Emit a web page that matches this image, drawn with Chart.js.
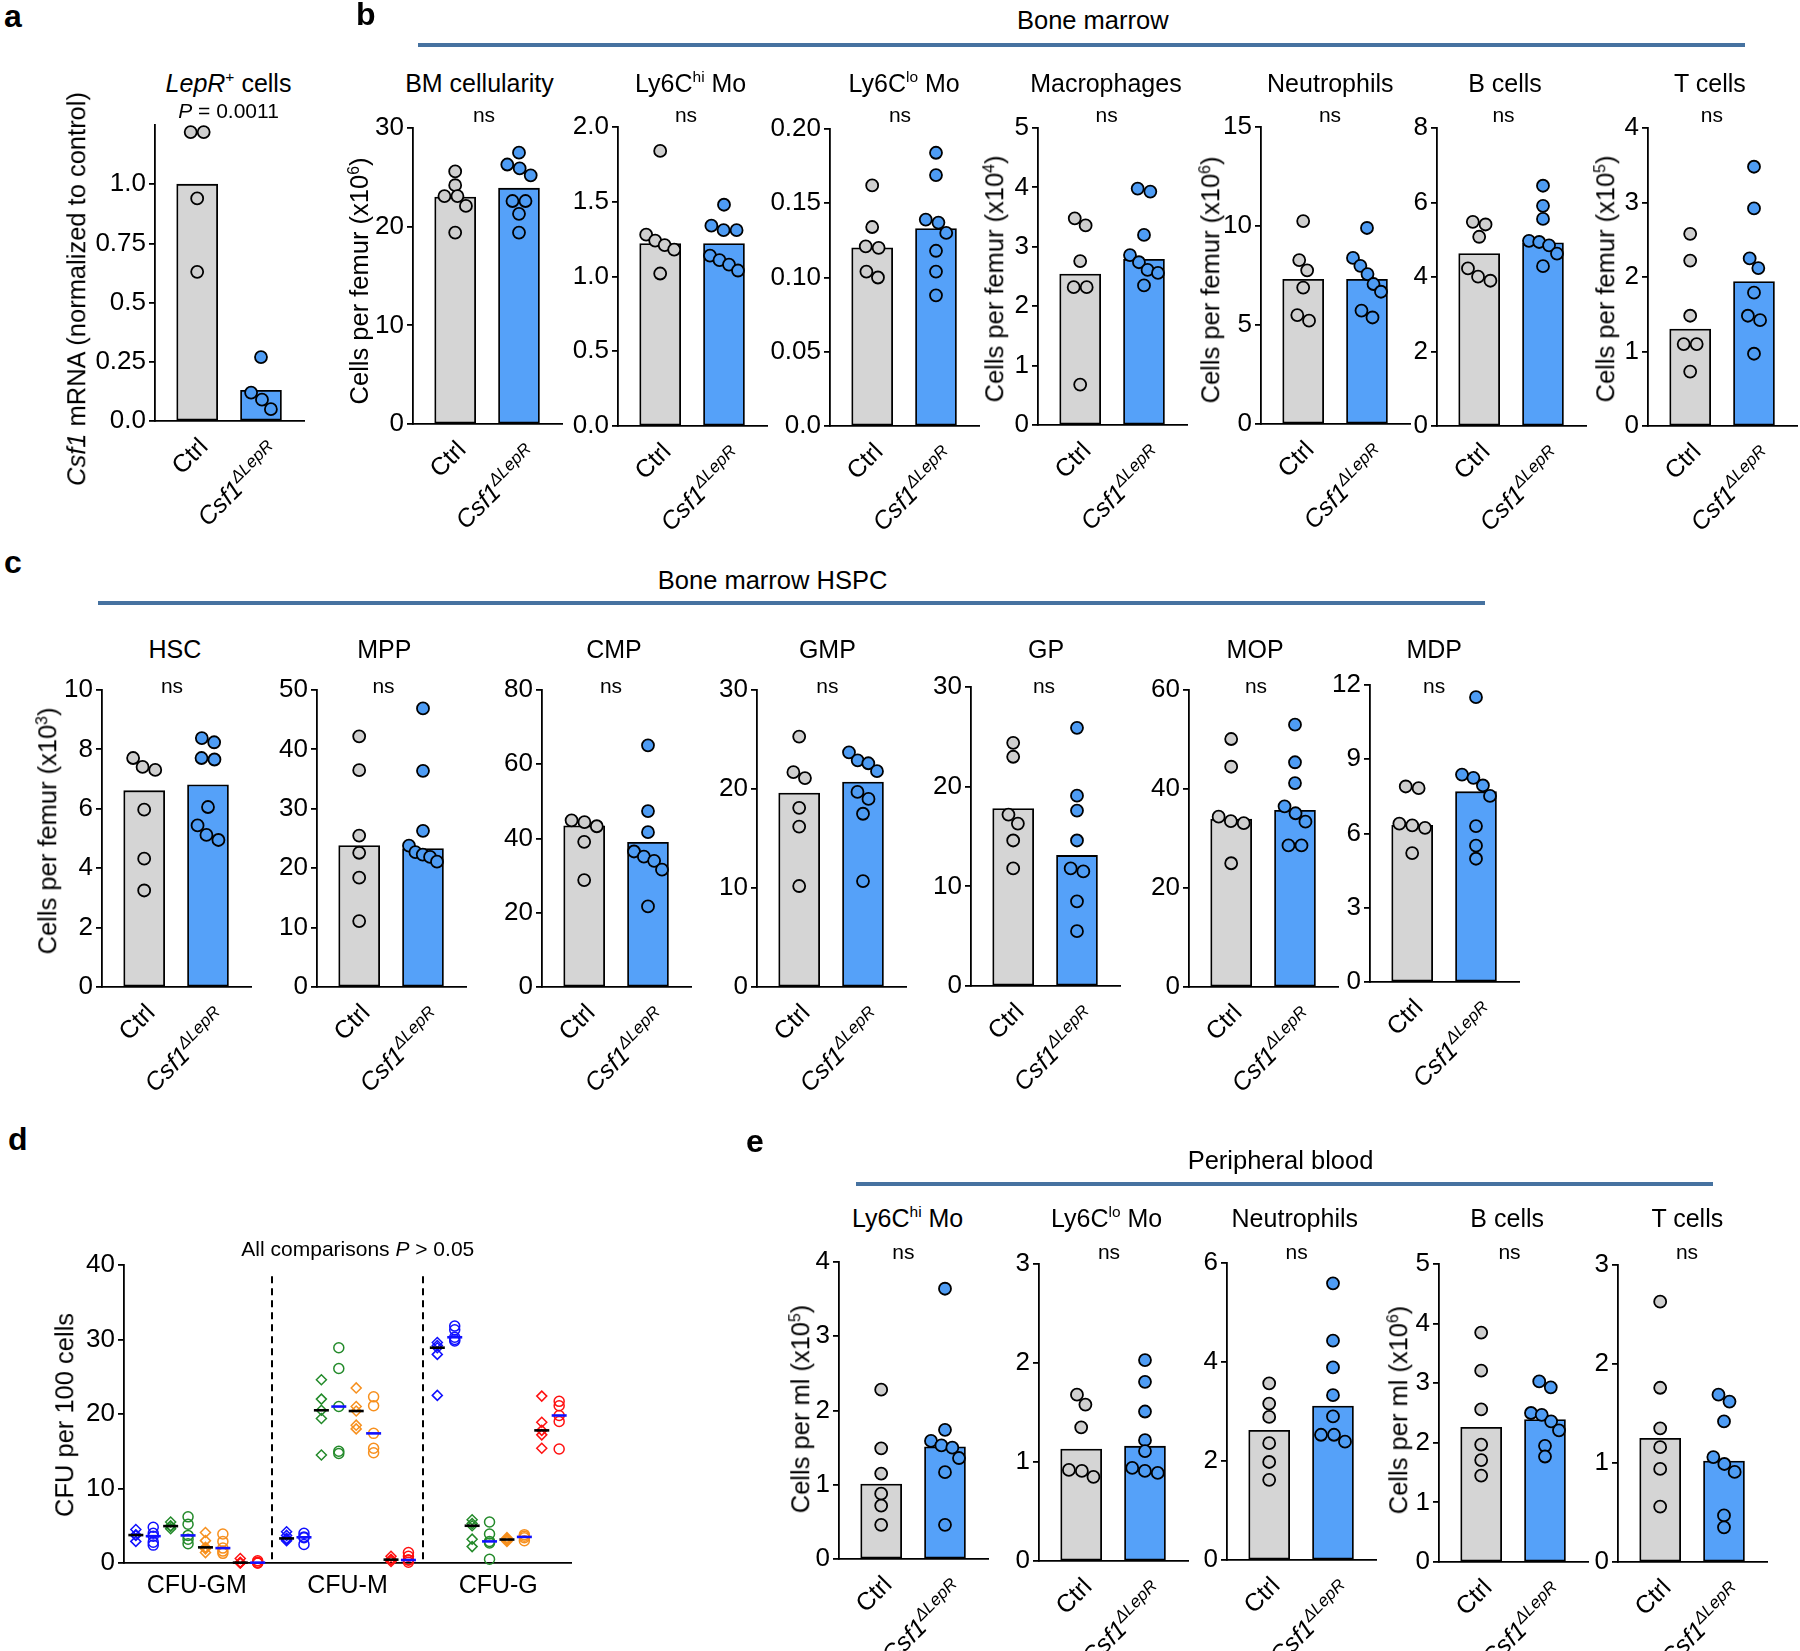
<!DOCTYPE html>
<html>
<head>
<meta charset="utf-8">
<script src="https://cdn.jsdelivr.net/npm/chart.js@4.4.1/dist/chart.umd.min.js"></script>
<style>
  html, body { margin: 0; padding: 0; background: #fff; }
  #fig { position: relative; width: 1800px; height: 1651px; overflow: hidden;
         font-family: "Liberation Sans", Arial, Helvetica, sans-serif; color: #000; }
  .t { position: absolute; white-space: nowrap; line-height: 1; transform: translate(-50%, -50%); }
  .yt { position: absolute; white-space: nowrap; line-height: 1; font-size: 25.5px;
        transform: translate(-50%, -50%) rotate(-90deg); }
  .letter { position: absolute; font-weight: bold; font-size: 32px; line-height: 1; }
  .rule { position: absolute; height: 4px; background: #4672a0; }
  sup { font-size: 0.62em; vertical-align: 0.6em; line-height: 0; }
  canvas { position: absolute; }
</style>
</head>
<body>
<div id="fig"></div>
<script>
// ---------- values ----------
const groupLabels = ['Ctrl', 'Csf1^ΔLepR'];

// a - Csf1 mRNA in LepR+ cells
const lepCtrl = [1.22, 1.22, 0.94, 0.63];
const lepKo = [0.27, 0.12, 0.09, 0.05];
const lepBars = [1.0, 0.13];

// b - bone marrow
const bmCellCtrl = [25.6, 24.2, 23.1, 23.1, 22.1, 19.4];
const bmCellKo = [27.5, 26.3, 25.9, 25.2, 22.6, 22.6, 21.3, 19.4];
const bmCellBars = [23.0, 23.9];
const bmHiCtrl = [1.84, 1.28, 1.24, 1.21, 1.18, 1.02];
const bmHiKo = [1.48, 1.34, 1.31, 1.31, 1.14, 1.11, 1.08, 1.04];
const bmHiBars = [1.22, 1.22];
const bmLoCtrl = [0.162, 0.134, 0.121, 0.120, 0.104, 0.100];
const bmLoKo = [0.184, 0.169, 0.139, 0.137, 0.130, 0.118, 0.104, 0.088];
const bmLoBars = [0.120, 0.133];
const bmMacCtrl = [3.48, 3.36, 2.76, 2.32, 2.32, 0.68];
const bmMacKo = [3.98, 3.93, 3.20, 2.86, 2.74, 2.61, 2.56, 2.35];
const bmMacBars = [2.54, 2.79];
const bmNeuCtrl = [10.25, 8.28, 7.76, 6.89, 5.5, 5.22];
const bmNeuKo = [9.9, 8.39, 7.99, 7.57, 7.07, 6.68, 5.73, 5.38];
const bmNeuBars = [7.31, 7.31];
const bmBCtrl = [5.48, 5.41, 5.08, 4.23, 4.01, 3.9];
const bmBKo = [6.45, 5.91, 5.56, 4.97, 4.94, 4.85, 4.63, 4.29];
const bmBBars = [4.63, 4.92];
const bmTCtrl = [2.58, 2.22, 1.48, 1.1, 1.1, 0.73];
const bmTKo = [3.48, 2.92, 2.25, 2.12, 1.79, 1.48, 1.42, 0.97];
const bmTBars = [1.3, 1.94];

// c - bone marrow HSPC
const hscCtrl = [7.71, 7.41, 7.31, 5.97, 4.32, 3.25];
const hscKo = [8.38, 8.24, 7.71, 7.66, 6.06, 5.44, 5.12, 4.95];
const hscBars = [6.61, 6.81];
const mppCtrl = [42.2, 36.5, 25.5, 22.6, 18.4, 11.1];
const mppKo = [46.9, 36.4, 26.3, 23.8, 22.7, 22.3, 21.9, 21.1];
const mppBars = [23.8, 23.3];
const cmpCtrl = [44.9, 44.4, 43.3, 39.1, 28.8];
const cmpKo = [65.1, 47.4, 41.7, 36.5, 35.1, 34.0, 31.6, 21.7];
const cmpBars = [43.4, 39.0];
const gmpCtrl = [25.3, 21.7, 21.1, 18.1, 16.2, 10.2];
const gmpKo = [23.7, 22.9, 22.6, 21.8, 19.7, 19.0, 17.5, 10.7];
const gmpBars = [19.6, 20.7];
const gpCtrl = [24.4, 23.0, 17.2, 16.3, 14.6, 11.8];
const gpKo = [25.9, 19.1, 17.6, 14.6, 11.8, 11.5, 8.5, 5.5];
const gpBars = [17.8, 13.1];
const mopCtrl = [50.1, 44.5, 34.4, 33.5, 33.1, 25.0];
const mopKo = [53.0, 45.4, 41.2, 36.5, 35.1, 33.4, 28.6, 28.6];
const mopBars = [33.9, 35.7];
const mdpCtrl = [7.9, 7.83, 6.4, 6.33, 6.23, 5.21];
const mdpKo = [11.51, 8.38, 8.25, 7.94, 7.52, 6.3, 5.51, 4.98];
const mdpBars = [6.33, 7.69];

// d - CFU assay, per category [CFU-GM, CFU-M, CFU-G]
const cfuCategories = ['CFU-GM', 'CFU-M', 'CFU-G'];
const cfuBlueDia = [[4.5, 3.8, 3.7, 2.9], [4.2, 3.7, 3.3, 3.2, 3.0], [29.6, 29.2, 28.9, 28.0, 22.5]];
const cfuBlueCirc = [[4.8, 4.0, 3.6, 2.8, 2.4], [4.0, 3.5, 3.4, 2.5], [31.8, 31.3, 30.3, 30.0, 29.8]];
const cfuGreenDia = [[5.5, 5.0, 4.9, 4.6], [24.6, 22.0, 20.5, 19.4, 14.5], [5.8, 5.3, 5.0, 3.2, 2.2]];
const cfuGreenCirc = [[6.2, 5.2, 3.7, 3.2, 2.6], [28.9, 26.1, 21.0, 15.0, 14.7], [5.5, 3.9, 2.9, 2.7, 0.5]];
const cfuOrangeDia = [[4.1, 3.0, 2.1, 1.9, 1.4], [23.5, 21.0, 20.4, 18.5, 18.0], [3.4, 3.2, 3.1, 2.9]];
const cfuOrangeCirc = [[3.9, 2.9, 2.0, 1.6, 1.3], [22.3, 21.1, 17.4, 15.4, 14.8], [3.8, 3.6, 3.4, 3.0]];
const cfuRedDia = [[0.6, 0.1, 0, 0], [0.9, 0.5, 0.4, 0.2], [22.4, 18.9, 17.8, 17.2, 15.4]];
const cfuRedCirc = [[0.3, 0.1, 0, 0], [1.4, 0.9, 0.4, 0.4, 0.1], [21.7, 21.1, 19.8, 19.0, 15.3]];

// e - peripheral blood
const pbHiCtrl = [2.28, 1.49, 1.15, 0.88, 0.72, 0.46];
const pbHiKo = [3.64, 1.74, 1.59, 1.53, 1.5, 1.36, 1.17, 0.46];
const pbHiBars = [1.01, 1.51];
const pbLoCtrl = [1.68, 1.58, 1.35, 0.92, 0.91, 0.85];
const pbLoKo = [2.03, 1.81, 1.51, 1.22, 1.11, 0.94, 0.91, 0.89];
const pbLoBars = [1.13, 1.16];
const pbNeuCtrl = [3.57, 3.16, 2.89, 2.36, 1.98, 1.62];
const pbNeuKo = [5.59, 4.43, 3.89, 3.33, 2.9, 2.53, 2.53, 2.39];
const pbNeuBars = [2.62, 3.11];
const pbBCtrl = [3.85, 3.21, 2.56, 1.97, 1.71, 1.45];
const pbBKo = [3.03, 2.93, 2.5, 2.47, 2.36, 2.21, 1.95, 1.77];
const pbBBars = [2.26, 2.39];
const pbTCtrl = [2.63, 1.76, 1.35, 1.16, 0.94, 0.56];
const pbTKo = [1.69, 1.62, 1.42, 1.06, 0.99, 0.91, 0.47, 0.35];
const pbTBars = [1.25, 1.02];

// ---------- styling ----------
const FONT = '"Liberation Sans", Arial, Helvetica, sans-serif';
const CTRL_FILL = '#d5d5d5', KO_FILL = '#55a1f9';
const CTRL_DOT = '#cfcfcf', KO_DOT = '#4e9cf4';
const LINE_W = 1.8;
const TICK_SIZE = 26, TITLE_SIZE = 25, NOTE_SIZE = 21;
const X_MIN = -0.661, X_MAX = 1.674, UNIT = 63.8;   // bars sit at x = 0 and x = 1
const PAD_L = 80, PAD_T = 18, PAD_R = 8, PAD_B = 130;

const fig = document.getElementById('fig');

const fmtInt = v => String(Math.round(v));
const fmt1 = v => v.toFixed(1);
const fmt2 = v => (v === 0 ? '0.0' : v.toFixed(2));
const fmtA = v => (v >= 1.25 ? '' : v === 0 ? '0.0' : v === 1 ? '1.0' : String(v));

function addText(html, cx, cy, size, cls) {
  const d = document.createElement('div');
  d.className = cls || 't';
  d.innerHTML = html;
  d.style.left = cx + 'px';
  d.style.top = cy + 'px';
  if (size) d.style.fontSize = size + 'px';
  fig.appendChild(d);
}

function addLetter(ch, x, y) {
  const d = document.createElement('div');
  d.className = 'letter';
  d.textContent = ch;
  d.style.left = x + 'px';
  d.style.top = y + 'px';
  fig.appendChild(d);
}

function addRule(x1, x2, y) {
  const d = document.createElement('div');
  d.className = 'rule';
  d.style.left = x1 + 'px';
  d.style.width = (x2 - x1) + 'px';
  d.style.top = (y - 2) + 'px';
  fig.appendChild(d);
}

// Prism-like scatter: points with close values form a row, spread sideways and centred
function swarm(values, center, pxPerY) {
  const D = 13, MAXW = 28;
  const vals = [...values].sort((a, b) => b - a);
  const rows = [];
  vals.forEach((v, i) => {
    if (i && (vals[i - 1] - v) * pxPerY < 0.8 * D) rows[rows.length - 1].push(v);
    else rows.push([v]);
  });
  const out = [];
  rows.forEach(row => {
    const xs = [0];
    for (let i = 1; i < row.length; i++) {
      const dy = (row[i - 1] - row[i]) * pxPerY;
      xs.push(xs[i - 1] + Math.sqrt(Math.max(D * D - dy * dy, 0.3 * D * D)));
    }
    const span = xs[xs.length - 1];
    const k = span > MAXW ? MAXW / span : 1;
    row.forEach((v, i) => out.push({ x: center + (xs[i] - span / 2) * k / UNIT, y: v }));
  });
  return out;
}

// rotated group names under the bars (Csf1 with superscript)
const groupLabelPlugin = {
  id: 'groupLabels',
  afterDraw(chart) {
    const ctx = chart.ctx, xs = chart.scales.x, y0 = chart.chartArea.bottom;
    groupLabels.forEach((lab, i) => {
      const [main, sup] = lab.split('^');
      const fMain = (sup ? 'italic ' : '') + '25px ' + FONT;
      const fSup = 'italic 17px ' + FONT;
      ctx.save();
      ctx.translate(xs.getPixelForValue(i) + (sup ? 20 : 12), y0 + (sup ? 33 : 27));
      ctx.rotate(-Math.PI / 4);
      ctx.fillStyle = '#000';
      ctx.textAlign = 'left';
      ctx.textBaseline = 'alphabetic';
      ctx.font = fMain;
      const w1 = ctx.measureText(main).width;
      let w2 = 0;
      if (sup) { ctx.font = fSup; w2 = ctx.measureText(sup).width; }
      ctx.font = fMain;
      ctx.fillText(main, -(w1 + w2), 0);
      if (sup) { ctx.font = fSup; ctx.fillText(sup, -w2, -10); }
      ctx.restore();
    });
  }
};

function yAxis(max, step, fmt, hideTop) {
  return {
    min: 0, max: max,
    border: { color: '#000', width: LINE_W },
    grid: {
      drawOnChartArea: false, drawTicks: true, tickLength: 6, lineWidth: LINE_W,
      color: c => (hideTop && c.tick && c.tick.value >= max) ? 'rgba(0,0,0,0)' : '#000'
    },
    ticks: { stepSize: step, padding: 3, color: '#000', font: { family: FONT, size: TICK_SIZE }, callback: v => fmt(v) },
    afterFit(s) { s.width = PAD_L; s.paddingTop = 0; s.paddingBottom = 0; }
  };
}

function xAxis(min, max, padB) {
  return {
    type: 'linear', min: min, max: max, offset: false,
    border: { color: '#000', width: LINE_W },
    grid: { display: false, offset: false }, ticks: { display: false },
    afterFit(s) { s.height = padB; s.paddingLeft = 0; s.paddingRight = 0; }
  };
}

function barPanel(p) {
  const plotW = Math.round((X_MAX - X_MIN) * UNIT);
  const plotH = p.bottom - p.top;
  const W = plotW + PAD_L + PAD_R, H = plotH + PAD_T + PAD_B;
  const cv = document.createElement('canvas');
  cv.width = W; cv.height = H;
  cv.style.left = (p.x - PAD_L) + 'px';
  cv.style.top = (p.top - PAD_T) + 'px';
  cv.style.width = W + 'px';
  cv.style.height = H + 'px';
  fig.appendChild(cv);
  const pxPerY = plotH / p.max;

  new Chart(cv, {
    type: 'scatter',
    data: {
      datasets: [
        { type: 'scatter', data: swarm(p.ctrl, 0, pxPerY), pointRadius: 6, pointBackgroundColor: CTRL_DOT,
          pointBorderColor: '#000', pointBorderWidth: LINE_W, clip: false, order: 1 },
        { type: 'scatter', data: swarm(p.ko, 1, pxPerY), pointRadius: 6, pointBackgroundColor: KO_DOT,
          pointBorderColor: '#000', pointBorderWidth: LINE_W, clip: false, order: 1 },
        { type: 'bar', data: [{ x: 0, y: p.bars[0] }, { x: 1, y: p.bars[1] }], backgroundColor: [CTRL_FILL, KO_FILL],
          borderColor: '#000', borderWidth: LINE_W, barThickness: 41, borderSkipped: false, order: 2 }
      ]
    },
    options: {
      responsive: false, animation: false, devicePixelRatio: 1,
      layout: { autoPadding: false, padding: { left: 0, top: PAD_T, right: PAD_R, bottom: 0 } },
      plugins: { legend: { display: false }, tooltip: { enabled: false } },
      scales: { x: xAxis(X_MIN, X_MAX, PAD_B), y: yAxis(p.max, p.step, p.fmt, p.hideTop) }
    },
    plugins: [groupLabelPlugin]
  });

  addText(p.title, p.tx, p.ty, TITLE_SIZE);
  addText(p.note || 'ns', p.nx, p.ny, NOTE_SIZE);
  if (p.ytitle) addText(p.ytitle, p.yx, p.yy, null, 'yt');
}

// ---------- panel layout ----------
const rowB = { ty: 82.6, ny: 113.6 };
const rowC = { ty: 648.5, ny: 684.6 };
const rowE = { ty: 1218.2, ny: 1251.4 };
const femur = e => 'Cells per femur (x10<sup>' + e + '</sup>)';
const perMl = e => 'Cells per ml (x10<sup>' + e + '</sup>)';

const panels = [
  { ctrl: lepCtrl, ko: lepKo, bars: lepBars, max: 1.25, step: 0.25, fmt: fmtA, hideTop: true,
    x: 155, top: 125, bottom: 421, title: '<i>LepR</i><sup>+</sup> cells', tx: 228.5, ty: 82.6,
    note: '<i>P</i> = 0.0011', nx: 228.5, ny: 110,
    ytitle: '<i>Csf1</i> mRNA (normalized to control)', yx: 76.5, yy: 289 },

  { ctrl: bmCellCtrl, ko: bmCellKo, bars: bmCellBars, max: 30, step: 10, fmt: fmtInt,
    x: 413, top: 128, bottom: 424, title: 'BM cellularity', tx: 479.5, nx: 484, ...rowB,
    ytitle: femur(6), yx: 359.7, yy: 280.6 },
  { ctrl: bmHiCtrl, ko: bmHiKo, bars: bmHiBars, max: 2, step: 0.5, fmt: fmt1,
    x: 618, top: 127, bottom: 426, title: 'Ly6C<sup>hi</sup> Mo', tx: 690.7, nx: 686, ...rowB },
  { ctrl: bmLoCtrl, ko: bmLoKo, bars: bmLoBars, max: 0.2, step: 0.05, fmt: fmt2,
    x: 830, top: 129, bottom: 426, title: 'Ly6C<sup>lo</sup> Mo', tx: 904.2, nx: 900, ...rowB },
  { ctrl: bmMacCtrl, ko: bmMacKo, bars: bmMacBars, max: 5, step: 1, fmt: fmtInt,
    x: 1038, top: 128, bottom: 425, title: 'Macrophages', tx: 1105.9, nx: 1106.7, ...rowB,
    ytitle: femur(4), yx: 995.2, yy: 279 },
  { ctrl: bmNeuCtrl, ko: bmNeuKo, bars: bmNeuBars, max: 15, step: 5, fmt: fmtInt,
    x: 1261, top: 127, bottom: 424, title: 'Neutrophils', tx: 1330.3, nx: 1330, ...rowB,
    ytitle: femur(6), yx: 1210.8, yy: 280 },
  { ctrl: bmBCtrl, ko: bmBKo, bars: bmBBars, max: 8, step: 2, fmt: fmtInt,
    x: 1437, top: 128, bottom: 426, title: 'B cells', tx: 1505, nx: 1503.5, ...rowB },
  { ctrl: bmTCtrl, ko: bmTKo, bars: bmTBars, max: 4, step: 1, fmt: fmtInt,
    x: 1648, top: 128, bottom: 426, title: 'T cells', tx: 1709.9, nx: 1711.8, ...rowB,
    ytitle: femur(5), yx: 1606.3, yy: 279 },

  { ctrl: hscCtrl, ko: hscKo, bars: hscBars, max: 10, step: 2, fmt: fmtInt,
    x: 102, top: 690, bottom: 987, title: 'HSC', tx: 174.8, nx: 172, ...rowC,
    ytitle: femur(3), yx: 48.2, yy: 831 },
  { ctrl: mppCtrl, ko: mppKo, bars: mppBars, max: 50, step: 10, fmt: fmtInt,
    x: 317, top: 690, bottom: 987, title: 'MPP', tx: 384.3, nx: 383.5, ...rowC },
  { ctrl: cmpCtrl, ko: cmpKo, bars: cmpBars, max: 80, step: 20, fmt: fmtInt,
    x: 542, top: 690, bottom: 987, title: 'CMP', tx: 614, nx: 611, ...rowC },
  { ctrl: gmpCtrl, ko: gmpKo, bars: gmpBars, max: 30, step: 10, fmt: fmtInt,
    x: 757, top: 690, bottom: 987, title: 'GMP', tx: 827.4, nx: 827.4, ...rowC },
  { ctrl: gpCtrl, ko: gpKo, bars: gpBars, max: 30, step: 10, fmt: fmtInt,
    x: 971, top: 687, bottom: 986, title: 'GP', tx: 1046, nx: 1044, ...rowC },
  { ctrl: mopCtrl, ko: mopKo, bars: mopBars, max: 60, step: 20, fmt: fmtInt,
    x: 1189, top: 690, bottom: 987, title: 'MOP', tx: 1255.1, nx: 1256, ...rowC },
  { ctrl: mdpCtrl, ko: mdpKo, bars: mdpBars, max: 12, step: 3, fmt: fmtInt,
    x: 1370, top: 685, bottom: 982, title: 'MDP', tx: 1434.2, nx: 1434.2, ...rowC },

  { ctrl: pbHiCtrl, ko: pbHiKo, bars: pbHiBars, max: 4, step: 1, fmt: fmtInt,
    x: 839, top: 1262, bottom: 1559, title: 'Ly6C<sup>hi</sup> Mo', tx: 907.7, nx: 903.4, ...rowE,
    ytitle: perMl(5), yx: 800.6, yy: 1408.5 },
  { ctrl: pbLoCtrl, ko: pbLoKo, bars: pbLoBars, max: 3, step: 1, fmt: fmtInt,
    x: 1039, top: 1264, bottom: 1561, title: 'Ly6C<sup>lo</sup> Mo', tx: 1106.7, nx: 1109, ...rowE },
  { ctrl: pbNeuCtrl, ko: pbNeuKo, bars: pbNeuBars, max: 6, step: 2, fmt: fmtInt,
    x: 1227, top: 1263, bottom: 1560, title: 'Neutrophils', tx: 1294.8, nx: 1296.6, ...rowE },
  { ctrl: pbBCtrl, ko: pbBKo, bars: pbBBars, max: 5, step: 1, fmt: fmtInt,
    x: 1439, top: 1264, bottom: 1562, title: 'B cells', tx: 1507.2, nx: 1509.5, ...rowE,
    ytitle: perMl(6), yx: 1399.4, yy: 1409.5 },
  { ctrl: pbTCtrl, ko: pbTKo, bars: pbTBars, max: 3, step: 1, fmt: fmtInt,
    x: 1618, top: 1265, bottom: 1562, title: 'T cells', tx: 1687.3, nx: 1687, ...rowE }
];

panels.forEach(barPanel);

// ---------- panel d ----------
const CFU_GAP = 8.66;
const cfuSeries = [
  { vals: cfuBlueDia, color: '#1010ff', shape: 'rectRot', slot: 0 },
  { vals: cfuBlueCirc, color: '#1010ff', shape: 'circle', slot: 1 },
  { vals: cfuGreenDia, color: '#238a2a', shape: 'rectRot', slot: 2 },
  { vals: cfuGreenCirc, color: '#238a2a', shape: 'circle', slot: 3 },
  { vals: cfuOrangeDia, color: '#f7901e', shape: 'rectRot', slot: 4 },
  { vals: cfuOrangeCirc, color: '#f7901e', shape: 'circle', slot: 5 },
  { vals: cfuRedDia, color: '#ff1010', shape: 'rectRot', slot: 6 },
  { vals: cfuRedCirc, color: '#ff1010', shape: 'circle', slot: 7 }
];

function median(a) {
  const s = [...a].sort((p, q) => p - q), m = s.length >> 1;
  return s.length % 2 ? s[m] : (s[m - 1] + s[m]) / 2;
}

const cfuPlugin = {
  id: 'cfuDecor',
  beforeDatasetsDraw(chart) {
    const { ctx, scales: { x, y } } = chart;
    ctx.save();
    ctx.strokeStyle = '#000';
    ctx.lineWidth = 2;
    ctx.setLineDash([7, 5]);
    for (let c = 1; c < cfuCategories.length; c++) {
      const px = Math.round(x.getPixelForValue(c * CFU_GAP - (CFU_GAP - 7) / 2));
      ctx.beginPath();
      ctx.moveTo(px, y.getPixelForValue(38.5));
      ctx.lineTo(px, y.getPixelForValue(0));
      ctx.stroke();
    }
    ctx.restore();
  },
  afterDraw(chart) {
    const { ctx, scales: { x }, chartArea } = chart;
    ctx.save();
    ctx.fillStyle = '#000';
    ctx.font = '25px ' + FONT;
    ctx.textAlign = 'center';
    ctx.textBaseline = 'middle';
    cfuCategories.forEach((name, c) => {
      ctx.fillText(name, x.getPixelForValue(c * CFU_GAP + 3.5), chartArea.bottom + 23);
    });
    ctx.restore();
  }
};

(function cfuPanel() {
  const ax = 124, top = 1265, bottom = 1563, end = 571;
  const padB = 50, padR = 10;
  const W = (end - ax) + PAD_L + padR, H = (bottom - top) + PAD_T + padB;
  const cv = document.createElement('canvas');
  cv.width = W; cv.height = H;
  cv.style.left = (ax - PAD_L) + 'px';
  cv.style.top = (top - PAD_T) + 'px';
  cv.style.width = W + 'px';
  cv.style.height = H + 'px';
  fig.appendChild(cv);

  const pointSets = cfuSeries.map(s => ({
    type: 'scatter',
    data: s.vals.flatMap((arr, c) => arr.map(v => ({ x: c * CFU_GAP + s.slot, y: v }))),
    pointStyle: s.shape, pointRadius: 5, pointBackgroundColor: 'rgba(0,0,0,0)',
    pointBorderColor: s.color, pointBorderWidth: 1.5, clip: false, order: 2
  }));
  const medianSet = (shape, color) => ({
    type: 'scatter',
    data: cfuSeries.filter(s => s.shape === shape)
      .flatMap(s => s.vals.map((arr, c) => ({ x: c * CFU_GAP + s.slot, y: median(arr) }))),
    pointStyle: 'line', pointRadius: 7.5, pointBorderColor: color, pointBorderWidth: 2.6, clip: false, order: 1
  });

  new Chart(cv, {
    type: 'scatter',
    data: { datasets: [medianSet('rectRot', '#000'), medianSet('circle', '#1010ff'), ...pointSets] },
    options: {
      responsive: false, animation: false, devicePixelRatio: 1,
      layout: { autoPadding: false, padding: { left: 0, top: PAD_T, right: padR, bottom: 0 } },
      plugins: { legend: { display: false }, tooltip: { enabled: false } },
      scales: { x: xAxis(-0.68, 25.0, padB), y: yAxis(40, 10, fmtInt, false) }
    },
    plugins: [cfuPlugin]
  });

  addText('All comparisons <i>P</i> &gt; 0.05', 357.8, 1247.6, NOTE_SIZE);
  addText('CFU per 100 cells', 65.2, 1415, null, 'yt');
})();

// ---------- section headers and letters ----------
addRule(418, 1745, 44.8);
addText('Bone marrow', 1092.8, 20.7, 25.5);
addRule(98, 1485, 602.7);
addText('Bone marrow HSPC', 772.6, 580.6, 25.5);
addRule(856, 1713, 1183.7);
addText('Peripheral blood', 1280.5, 1161.3, 25.5);

addLetter('a', 4, 0);
addLetter('b', 356, -2);
addLetter('c', 4, 546);
addLetter('d', 8, 1123);
addLetter('e', 746, 1125);
</script>
</body>
</html>
